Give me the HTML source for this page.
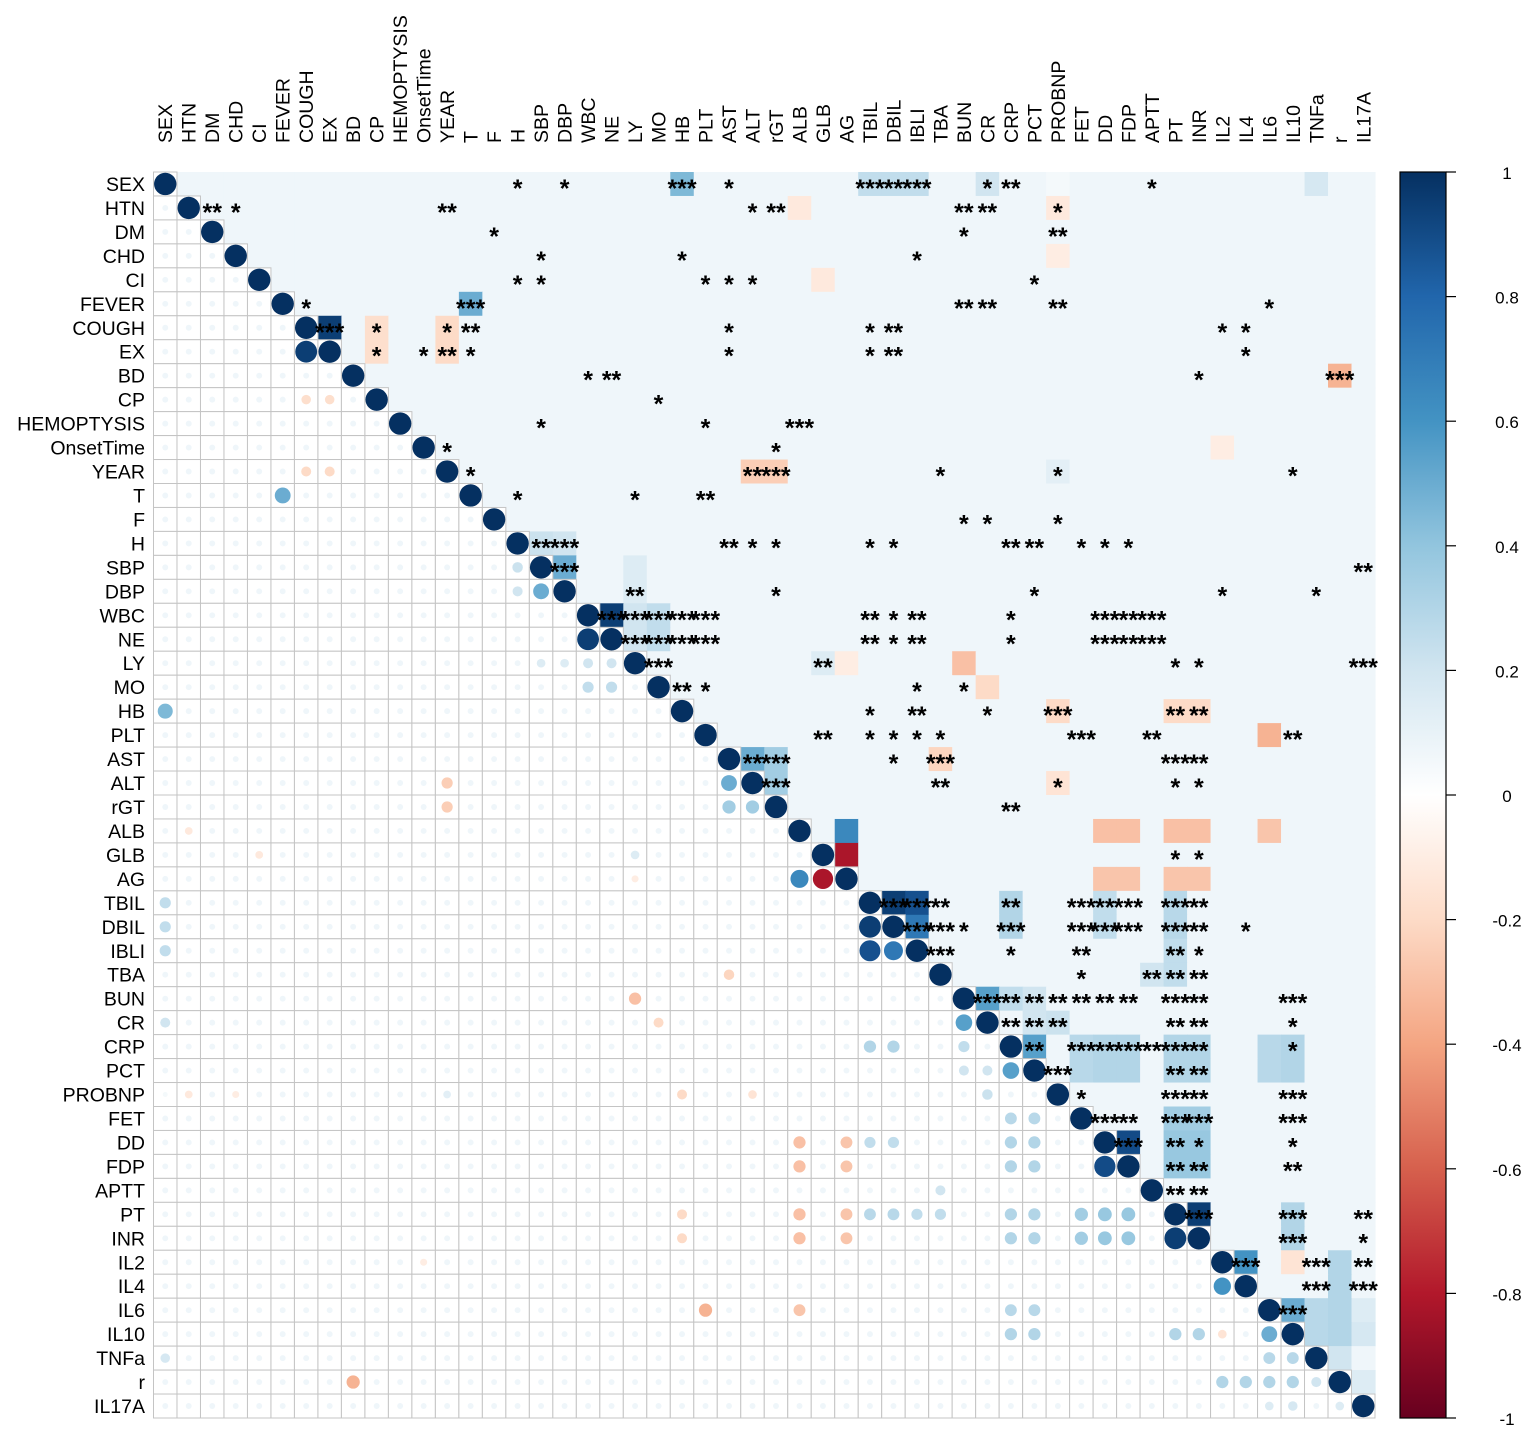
<!DOCTYPE html>
<html><head><meta charset="utf-8"><style>
html,body{margin:0;padding:0;background:#fff;}
svg{display:block;font-family:"Liberation Sans",Arial,sans-serif;}
</style></head><body>
<svg id="chart" width="1535" height="1435" viewBox="0 0 1535 1435" xmlns="http://www.w3.org/2000/svg">
<g id="cells"></g>
<g id="grid"></g>
<g id="circles"></g>
<g id="stars"></g>
<g id="rowlabels"></g>
<g id="collabels"></g>
<g id="legend"></g>
</svg>
<script>
const variables = ["SEX","HTN","DM","CHD","CI","FEVER","COUGH","EX","BD","CP","HEMOPTYSIS","OnsetTime","YEAR","T","F","H","SBP","DBP","WBC","NE","LY","MO","HB","PLT","AST","ALT","rGT","ALB","GLB","AG","TBIL","DBIL","IBLI","TBA","BUN","CR","CRP","PCT","PROBNP","FET","DD","FDP","APTT","PT","INR","IL2","IL4","IL6","IL10","TNFa","r","IL17A"];
const defaultR = 0.07;
// notable correlations: [variable A, variable B, r]
const pairs = [
["COUGH","EX",0.95],["WBC","NE",0.95],["TBIL","DBIL",0.95],["TBIL","IBLI",0.88],["DBIL","IBLI",0.72],
["ALB","AG",0.65],["GLB","AG",-0.82],["DD","FDP",0.9],["PT","INR",0.95],["IL2","IL4",0.6],
["CRP","PCT",0.55],["BUN","CR",0.55],["SEX","HB",0.45],["FEVER","T",0.5],["SBP","DBP",0.5],
["AST","ALT",0.5],["AST","rGT",0.35],["ALT","rGT",0.35],["BD","r",-0.35],["IL6","IL10",0.5],
["ALB","DD",-0.3],["ALB","FDP",-0.3],["ALB","PT",-0.3],["ALB","INR",-0.3],["ALB","IL6",-0.28],
["PLT","IL6",-0.35],["LY","BUN",-0.3],["AG","DD",-0.28],["AG","FDP",-0.28],["AG","PT",-0.28],["AG","INR",-0.28],
["YEAR","ALT",-0.25],["YEAR","rGT",-0.25],
["SEX","TBIL",0.25],["SEX","DBIL",0.25],["SEX","IBLI",0.25],["SEX","CR",0.2],["SEX","TNFa",0.18],
["SBP","LY",0.15],["DBP","LY",0.15],["H","SBP",0.22],["H","DBP",0.2],
["COUGH","CP",-0.18],["EX","CP",-0.18],["COUGH","YEAR",-0.2],["EX","YEAR",-0.2],
["CRP","DD",0.3],["CRP","FDP",0.3],["PCT","DD",0.3],["PCT","FDP",0.3],["CRP","FET",0.28],["PCT","FET",0.28],
["DD","PT",0.38],["DD","INR",0.38],["FDP","PT",0.38],["FDP","INR",0.38],["FET","PT",0.35],["FET","INR",0.35],
["CRP","PT",0.3],["CRP","INR",0.3],["PCT","PT",0.3],["PCT","INR",0.3],
["PT","IL10",0.3],["INR","IL10",0.3],["CRP","IL10",0.3],["PCT","IL10",0.3],["CRP","IL6",0.28],["PCT","IL6",0.28],
["TBIL","CRP",0.3],["DBIL","CRP",0.3],["TBIL","PT",0.28],["DBIL","PT",0.28],["IBLI","PT",0.25],
["TBIL","DD",0.25],["DBIL","DD",0.25],["TBA","PT",0.25],["BUN","CRP",0.25],["CR","PROBNP",0.22],
["WBC","LY",0.2],["NE","LY",0.2],["WBC","MO",0.25],["NE","MO",0.25],
["IL2","r",0.3],["IL4","r",0.3],["IL10","r",0.3],["TNFa","r",0.2],["IL6","r",0.3],["IL6","TNFa",0.28],["IL10","TNFa",0.28],
["IL6","IL17A",0.15],["IL10","IL17A",0.18],["r","IL17A",0.15],
["TBA","APTT",0.2],["HB","PROBNP",-0.2],["HB","PT",-0.2],["HB","INR",-0.2],
["SEX","PROBNP",0.05],["HTN","PROBNP",-0.12],["HTN","ALB",-0.12],["CHD","PROBNP",-0.1],["CI","GLB",-0.12],
["MO","CR",-0.2],["AST","TBA",-0.22],["ALT","PROBNP",-0.15],["LY","GLB",0.15],["LY","AG",-0.1],
["IL2","IL10",-0.15],["OnsetTime","IL2",-0.1],["YEAR","PROBNP",0.12],["BUN","PCT",0.2],["CR","PCT",0.2]
];
// significance stars: [row variable, column variable, label]
const stars = [
["SEX","H","*"],["SEX","DBP","*"],["SEX","HB","***"],["SEX","AST","*"],["SEX","TBIL","***"],["SEX","DBIL","**"],["SEX","IBLI","***"],["SEX","CR","*"],["SEX","CRP","**"],["SEX","APTT","*"],
["HTN","DM","**"],["HTN","CHD","*"],["HTN","YEAR","**"],["HTN","ALT","*"],["HTN","rGT","**"],["HTN","BUN","**"],["HTN","CR","**"],["HTN","PROBNP","*"],
["DM","F","*"],["DM","BUN","*"],["DM","PROBNP","**"],
["CHD","SBP","*"],["CHD","HB","*"],["CHD","IBLI","*"],
["CI","H","*"],["CI","SBP","*"],["CI","PLT","*"],["CI","AST","*"],["CI","ALT","*"],["CI","PCT","*"],
["FEVER","COUGH","*"],["FEVER","T","***"],["FEVER","BUN","**"],["FEVER","CR","**"],["FEVER","PROBNP","**"],["FEVER","IL6","*"],
["COUGH","EX","***"],["COUGH","CP","*"],["COUGH","YEAR","*"],["COUGH","T","**"],["COUGH","AST","*"],["COUGH","TBIL","*"],["COUGH","DBIL","**"],["COUGH","IL2","*"],["COUGH","IL4","*"],
["EX","CP","*"],["EX","OnsetTime","*"],["EX","YEAR","**"],["EX","T","*"],["EX","AST","*"],["EX","TBIL","*"],["EX","DBIL","**"],["EX","IL4","*"],
["BD","WBC","*"],["BD","NE","**"],["BD","INR","*"],["BD","r","***"],
["CP","MO","*"],
["HEMOPTYSIS","SBP","*"],["HEMOPTYSIS","PLT","*"],["HEMOPTYSIS","ALB","***"],
["OnsetTime","YEAR","*"],["OnsetTime","rGT","*"],
["YEAR","T","*"],["YEAR","ALT","**"],["YEAR","rGT","***"],["YEAR","TBA","*"],["YEAR","PROBNP","*"],["YEAR","IL10","*"],
["T","H","*"],["T","LY","*"],["T","PLT","**"],
["F","BUN","*"],["F","CR","*"],["F","PROBNP","*"],
["H","SBP","**"],["H","DBP","***"],["H","AST","**"],["H","ALT","*"],["H","rGT","*"],["H","TBIL","*"],["H","DBIL","*"],["H","CRP","**"],["H","PCT","**"],["H","FET","*"],["H","DD","*"],["H","FDP","*"],
["SBP","DBP","***"],["SBP","IL17A","**"],
["DBP","LY","**"],["DBP","rGT","*"],["DBP","PCT","*"],["DBP","IL2","*"],["DBP","TNFa","*"],
["WBC","NE","***"],["WBC","LY","***"],["WBC","MO","***"],["WBC","HB","***"],["WBC","PLT","***"],["WBC","TBIL","**"],["WBC","DBIL","*"],["WBC","IBLI","**"],["WBC","CRP","*"],["WBC","DD","***"],["WBC","FDP","**"],["WBC","APTT","***"],
["NE","LY","***"],["NE","MO","***"],["NE","HB","***"],["NE","PLT","***"],["NE","TBIL","**"],["NE","DBIL","*"],["NE","IBLI","**"],["NE","CRP","*"],["NE","DD","***"],["NE","FDP","**"],["NE","APTT","***"],
["LY","MO","***"],["LY","GLB","**"],["LY","PT","*"],["LY","INR","*"],["LY","IL17A","***"],
["MO","HB","**"],["MO","PLT","*"],["MO","IBLI","*"],["MO","BUN","*"],
["HB","TBIL","*"],["HB","IBLI","**"],["HB","CR","*"],["HB","PROBNP","***"],["HB","PT","**"],["HB","INR","**"],
["PLT","GLB","**"],["PLT","TBIL","*"],["PLT","DBIL","*"],["PLT","IBLI","*"],["PLT","TBA","*"],["PLT","FET","***"],["PLT","APTT","**"],["PLT","IL10","**"],
["AST","ALT","**"],["AST","rGT","***"],["AST","DBIL","*"],["AST","TBA","***"],["AST","PT","***"],["AST","INR","**"],
["ALT","rGT","***"],["ALT","TBA","**"],["ALT","PROBNP","*"],["ALT","PT","*"],["ALT","INR","*"],
["rGT","CRP","**"],
["GLB","PT","*"],["GLB","INR","*"],
["TBIL","DBIL","***"],["TBIL","IBLI","***"],["TBIL","TBA","**"],["TBIL","CRP","**"],["TBIL","FET","***"],["TBIL","DD","**"],["TBIL","FDP","***"],["TBIL","PT","***"],["TBIL","INR","**"],
["DBIL","IBLI","***"],["DBIL","TBA","***"],["DBIL","BUN","*"],["DBIL","CRP","***"],["DBIL","FET","***"],["DBIL","DD","***"],["DBIL","FDP","***"],["DBIL","PT","***"],["DBIL","INR","**"],["DBIL","IL4","*"],
["IBLI","TBA","***"],["IBLI","CRP","*"],["IBLI","FET","**"],["IBLI","PT","**"],["IBLI","INR","*"],
["TBA","FET","*"],["TBA","APTT","**"],["TBA","PT","**"],["TBA","INR","**"],
["BUN","CR","***"],["BUN","CRP","**"],["BUN","PCT","**"],["BUN","PROBNP","**"],["BUN","FET","**"],["BUN","DD","**"],["BUN","FDP","**"],["BUN","PT","***"],["BUN","INR","**"],["BUN","IL10","***"],
["CR","CRP","**"],["CR","PCT","**"],["CR","PROBNP","**"],["CR","PT","**"],["CR","INR","**"],["CR","IL10","*"],
["CRP","PCT","**"],["CRP","FET","***"],["CRP","DD","**"],["CRP","FDP","***"],["CRP","APTT","**"],["CRP","PT","***"],["CRP","INR","**"],["CRP","IL10","*"],
["PCT","PROBNP","***"],["PCT","PT","**"],["PCT","INR","**"],
["PROBNP","FET","*"],["PROBNP","PT","***"],["PROBNP","INR","**"],["PROBNP","IL10","***"],
["FET","DD","***"],["FET","FDP","**"],["FET","PT","***"],["FET","INR","***"],["FET","IL10","***"],
["DD","FDP","***"],["DD","PT","**"],["DD","INR","*"],["DD","IL10","*"],
["FDP","PT","**"],["FDP","INR","**"],["FDP","IL10","**"],
["APTT","PT","**"],["APTT","INR","**"],
["PT","INR","***"],["PT","IL10","***"],["PT","IL17A","**"],
["INR","IL10","***"],["INR","IL17A","*"],
["IL2","IL4","***"],["IL2","TNFa","***"],["IL2","IL17A","**"],
["IL4","TNFa","***"],["IL4","IL17A","***"],
["IL6","IL10","***"]
];
</script>
<script>
const NS="http://www.w3.org/2000/svg";
const N=variables.length, x0=153.5, y0=172, cw=(1375-153.5)/N, ch=(1418-172)/N;
const xs=j=>x0+cw*j, ys=i=>y0+ch*i;
const idx=n=>variables.indexOf(n);
const M=[];
for(let i=0;i<N;i++){M.push([]);for(let j=0;j<N;j++)M[i].push(i===j?1:defaultR);}
pairs.forEach(p=>{const a=idx(p[0]),b=idx(p[1]);if(a<0||b<0)return;M[a][b]=p[2];M[b][a]=p[2];});
const stops=[[-1,[103,0,31]],[-0.8,[178,24,43]],[-0.6,[214,96,77]],[-0.4,[244,165,130]],[-0.2,[253,219,199]],[0,[255,255,255]],[0.2,[209,229,240]],[0.4,[146,197,222]],[0.6,[67,147,195]],[0.8,[33,102,172]],[1,[5,48,97]]];
function col(r){r=Math.max(-1,Math.min(1,r));for(let k=0;k<stops.length-1;k++){const[a,ca]=stops[k],[b,cb]=stops[k+1];if(r<=b){const t=(r-a)/(b-a);return"rgb("+ca.map((c,m)=>Math.round(c+(cb[m]-c)*t)).join(",")+")";}}return"rgb(5,48,97)";}
function mk(t,at,p){const e=document.createElementNS(NS,t);for(const k in at)e.setAttribute(k,at[k]);p.appendChild(e);return e;}
const gC=document.getElementById("cells"),gG=document.getElementById("grid"),gO=document.getElementById("circles"),gS=document.getElementById("stars"),gR=document.getElementById("rowlabels"),gL=document.getElementById("collabels"),gLeg=document.getElementById("legend");
for(let i=0;i<N;i++)for(let j=0;j<N;j++){
  if(j>i){const e=mk("rect",{x:xs(j),y:ys(i),width:cw+0.6,height:ch+0.6,fill:col(M[i][j])},gC);
    
    
  }else{
    const g=mk("rect",{x:xs(j),y:ys(i),width:cw,height:ch,fill:"#fff",stroke:"#c4c4c4","stroke-width":1},gG);
    
    
    const r=M[i][j];const rad=(i===j?11.2:11.2*Math.sqrt(Math.abs(r)));
    const c=mk("circle",{cx:xs(j)+cw/2,cy:ys(i)+ch/2,r:rad,fill:col(r)},gO);
    
    
  }
}
stars.forEach(s=>{
  const i=idx(s[0]),j=idx(s[1]);if(i<0||j<0)return;
  const t=mk("text",{x:xs(j)+cw/2,y:ys(i)+ch/2+13,"text-anchor":"middle","font-size":25,"font-weight":"bold",fill:"#000"},gS);
  t.textContent=s[2];
  
  
});
for(let i=0;i<N;i++){
  const t=mk("text",{x:145,y:ys(i)+ch/2+7,"text-anchor":"end","font-size":19.5,fill:"#000"},gR);
  t.textContent=variables[i];
  
  
  const cx=xs(i)+cw/2+7;
  const u=mk("text",{x:cx,y:143,transform:"rotate(-90 "+cx+" 143)","text-anchor":"start","font-size":19.5,fill:"#000"},gL);
  u.textContent=variables[i];
  
  
}
const defs=mk("defs",{},gLeg);
const lg=mk("linearGradient",{id:"lgrad",x1:0,y1:0,x2:0,y2:1},defs);
for(let k=stops.length-1;k>=0;k--){mk("stop",{offset:((1-stops[k][0])/2*100)+"%","stop-color":col(stops[k][0])},lg);}
const bar=mk("rect",{x:1400,y:172,width:46,height:1246,fill:"url(#lgrad)",stroke:"#000","stroke-width":1.2},gLeg);


const ticks=[1,0.8,0.6,0.4,0.2,0,-0.2,-0.4,-0.6,-0.8,-1];
ticks.forEach(v=>{const y=172+(1-v)/2*1246;
  mk("line",{x1:1446,x2:1456,y1:y,y2:y,stroke:"#000","stroke-width":1.2},gLeg);
  const t=mk("text",{x:1507,y:y+7,"text-anchor":"middle","font-size":17,fill:"#000"},gLeg);
  t.textContent=String(v);
  
  
});
</script>
</body></html>
